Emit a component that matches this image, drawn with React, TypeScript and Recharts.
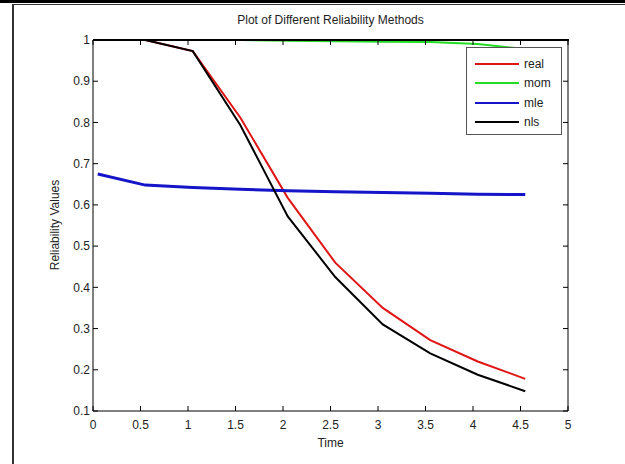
import React from 'react';
import { LineChart, Line, XAxis, YAxis } from 'recharts';

// sample times and reliability estimates
const times = [0.05, 0.55, 1.05, 1.55, 2.05, 2.55, 3.05, 3.55, 4.05, 4.55];
const realVals = [null, 1, 0.973, 0.812, 0.617, 0.46, 0.35, 0.272, 0.22, 0.178];
const momVals = [1, 1, 1, 1, 0.998, 0.997, 0.996, 0.995, 0.99, 0.978];
const mleVals = [0.675, 0.648, 0.642, 0.638, 0.634, 0.632, 0.63, 0.628, 0.626, 0.625];
const nlsVals = [null, 1, 0.973, 0.794, 0.572, 0.425, 0.31, 0.24, 0.188, 0.148];

const xTicks = [0, 0.5, 1, 1.5, 2, 2.5, 3, 3.5, 4, 4.5, 5];
const yTicks = [0.1, 0.2, 0.3, 0.4, 0.5, 0.6, 0.7, 0.8, 0.9, 1];

const series = [
  { key: 'real', color: '#e01515', width: 2 },
  { key: 'mom', color: '#22dd22', width: 2 },
  { key: 'mle', color: '#1414c8', width: 3 },
  { key: 'nls', color: '#000000', width: 2 },
];

const data = times.map((t, i) => ({
  t,
  real: realVals[i],
  mom: momVals[i],
  mle: mleVals[i],
  nls: nlsVals[i],
}));

const FONT = '"Liberation Sans", Arial, sans-serif';
const tickStyle = { fontSize: 12, fill: '#222', fontFamily: FONT };

const LegendBox = () => (
  <div
    style={{
      position: 'absolute',
      left: 466,
      top: 47,
      width: 96,
      height: 88,
      border: '1px solid #555',
      background: '#fff',
      boxSizing: 'border-box',
      paddingTop: 6,
      fontSize: 12,
      color: '#222',
    }}
  >
    {series.map((s) => (
      <div key={s.key} style={{ display: 'flex', alignItems: 'center', height: 19.5 }}>
        <div style={{ marginLeft: 8, width: 44, height: 2, background: s.color }} />
        <span style={{ marginLeft: 5 }}>{s.key}</span>
      </div>
    ))}
  </div>
);

export default function App() {
  return (
    <div style={{ position: 'relative', width: 625, height: 464, background: '#fff', fontFamily: FONT }}>
      <style>{'body{margin:0}'}</style>
      {/* figure frame */}
      <div style={{ position: 'absolute', left: 0, top: 0, width: 625, height: 3, background: '#000' }} />
      <div style={{ position: 'absolute', left: 12, top: 4, width: 613, height: 1, background: '#333' }} />
      <div style={{ position: 'absolute', left: 12, top: 4, width: 2, height: 460, background: '#333' }} />

      <div style={{ position: 'absolute', left: 93, width: 475, top: 13, textAlign: 'center', fontSize: 12, color: '#222' }}>
        Plot of Different Reliability Methods
      </div>
      <div style={{ position: 'absolute', left: 93, width: 475, top: 436, textAlign: 'center', fontSize: 12, color: '#222' }}>
        Time
      </div>
      <div
        style={{
          position: 'absolute',
          left: 55,
          top: 225,
          transform: 'translate(-50%, -50%) rotate(-90deg)',
          whiteSpace: 'nowrap',
          fontSize: 12,
          color: '#222',
        }}
      >
        Reliability Values
      </div>

      <div style={{ position: 'absolute', left: 0, top: 0 }}>
        <LineChart width={625} height={464} data={data} margin={{ top: 39, right: 56, bottom: 23, left: 53 }}>
          <XAxis
            xAxisId="b"
            dataKey="t"
            type="number"
            domain={[0, 5]}
            ticks={xTicks}
            interval={0}
            tickSize={-5}
            tickMargin={14}
            height={30}
            stroke="#000"
            tick={tickStyle}
          />
          <XAxis
            xAxisId="t"
            orientation="top"
            dataKey="t"
            type="number"
            domain={[0, 5]}
            ticks={xTicks}
            interval={0}
            tickSize={-5}
            tickFormatter={() => ''}
            height={1}
            stroke="#000"
          />
          <YAxis
            yAxisId="l"
            type="number"
            domain={[0.1, 1]}
            ticks={yTicks}
            interval={0}
            tickSize={-5}
            tickMargin={8}
            width={40}
            stroke="#000"
            tick={tickStyle}
          />
          <YAxis
            yAxisId="r"
            orientation="right"
            dataKey="mle"
            type="number"
            domain={[0.1, 1]}
            ticks={yTicks}
            interval={0}
            tickSize={-5}
            tickFormatter={() => ''}
            width={1}
            stroke="#000"
          />
          {series.map((s) => (
            <Line
              key={s.key}
              xAxisId="b"
              yAxisId="l"
              dataKey={s.key}
              stroke={s.color}
              strokeWidth={s.width}
              dot={false}
              isAnimationActive={false}
              connectNulls={false}
            />
          ))}
          {/* invisible series so the mirrored axes get data */}
          <Line
            xAxisId="t"
            yAxisId="r"
            dataKey="mle"
            stroke="none"
            dot={false}
            legendType="none"
            isAnimationActive={false}
          />
        </LineChart>
      </div>
      {/* matlab draws the box edge over the lines */}
      <div style={{ position: 'absolute', left: 93, top: 39, width: 476, height: 1.5, background: '#000' }} />
      <LegendBox />
    </div>
  );
}
